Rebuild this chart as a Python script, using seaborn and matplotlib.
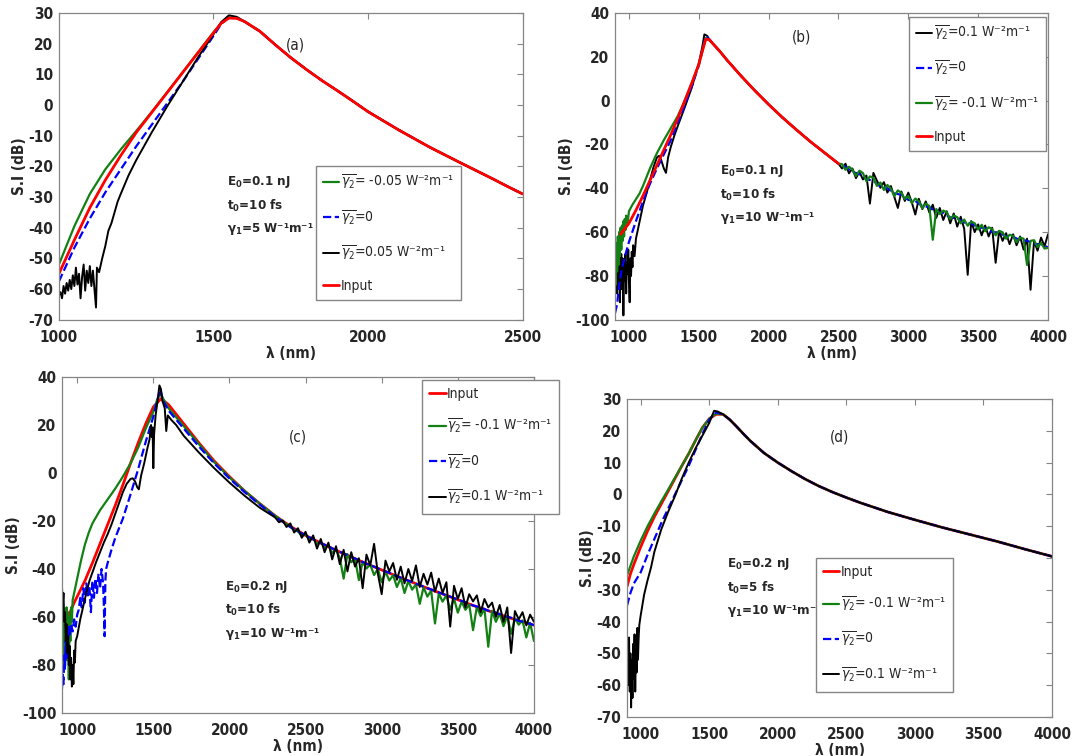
import matplotlib
matplotlib.use('Agg')
import matplotlib.pyplot as plt
from matplotlib import font_manager
import seaborn as sns

# ---------------- panel (a) ----------------
a_tail_wl = [1600, 1650, 1700, 1750, 1800, 1850, 1900, 1950, 2000, 2100, 2200, 2300, 2400, 2450, 2500]
a_tail = [27.2, 24.0, 19.6, 15.4, 11.6, 8.0, 4.7, 1.3, -2.2, -8.2, -13.8, -18.9, -23.9, -26.5, -29.0]

a_left_wl = [1000, 1050, 1100, 1150, 1200, 1250, 1300, 1350, 1400, 1450, 1500, 1525, 1550, 1575]
a_green = [-52.0, -39.5, -29.0, -21.0, -14.5, -8.5, -2.3, 4.1, 10.6, 17.1, 23.6, 26.7, 28.5, 28.3]
a_red = [-55.0, -44.0, -33.5, -24.5, -16.5, -9.0, -2.5, 4.0, 10.5, 17.0, 23.5, 26.6, 28.3, 28.2]
a_blue = [-57.5, -46.5, -37.0, -28.5, -21.0, -13.5, -6.5, 0.5, 7.5, 15.0, 22.5, 26.4, 28.6, 28.4]

a_black_wl = [1000, 1005, 1010, 1015, 1020, 1025, 1030, 1035, 1040, 1045, 1050, 1055, 1060,
              1065, 1070, 1075, 1080, 1085, 1090, 1095, 1100, 1105, 1110, 1115, 1120,
              1123, 1130, 1140, 1150, 1160, 1170, 1180, 1190, 1200, 1225, 1250, 1275,
              1300, 1350, 1400, 1450, 1500, 1525, 1550, 1575]
a_black = [-62, -61, -63, -59, -61.5, -58, -60.5, -57, -60, -55.5, -59, -53, -58.5,
           -55, -63, -56, -52, -60.5, -54, -58, -52.5, -59, -54, -60, -66,
           -53, -54.5, -50, -46, -41, -38.5, -35, -31.5, -29, -23, -18, -13.5,
           -9, -0.5, 7.5, 15.5, 23, 27, 29.2, 28.7]

# ---------------- panel (b) ----------------
b_mid_wl = [1600, 1650, 1700, 1750, 1800, 1850, 1900, 1950, 2000, 2100, 2200, 2300, 2400, 2500]
b_mid = [26.0, 22.5, 18.6, 15.0, 11.4, 8.0, 4.6, 1.4, -1.8, -7.8, -13.4, -18.8, -23.8, -28.8]

b_red_wl = [940, 970, 1000, 1050, 1100, 1150, 1200, 1250, 1300, 1350, 1400, 1450, 1500, 1525, 1550, 1575]
b_red = [-61.0, -58.5, -56.0, -50.0, -43.5, -36.5, -29.5, -22.5, -15.5, -8.0, 0.0, 8.0, 16.5, 22.5, 28.0, 27.8]

b_green_wl = [900, 905, 910, 915, 920, 925, 930, 935, 940, 945, 950, 955, 960, 965, 970, 975,
              980, 990, 1000, 1025, 1050, 1075, 1100, 1150, 1200, 1250, 1300, 1350, 1400,
              1450, 1500, 1525, 1550, 1575]
b_green = [-72, -84, -65, -78, -62, -75, -60, -71, -58, -68, -57, -64, -55, -62, -54, -59,
           -52.5, -56, -50.5, -47.5, -45, -42.5, -39, -31, -24, -18, -12.5, -7, 0,
           8, 16.5, 22.5, 28.5, 27.5]

b_blue_wl = [900, 915, 930, 945, 960, 980, 1000, 1050, 1100, 1150, 1200, 1250, 1300, 1350,
             1400, 1450, 1500, 1525, 1550, 1575]
b_blue = [-97, -93, -84, -78, -74, -69, -64.5, -55, -46, -38, -31, -24.5, -18, -10,
          -2, 6.5, 16, 22.5, 29.5, 28]

b_black_wl = [900, 905, 910, 915, 920, 925, 930, 935, 940, 945, 950, 955, 960, 965, 970,
              975, 980, 985, 990, 995, 1000, 1005, 1010, 1015, 1020, 1025, 1030,
              1040, 1050, 1060, 1075, 1100, 1125, 1150, 1175, 1200, 1215, 1230, 1250,
              1265, 1280, 1300, 1325, 1350, 1400, 1450, 1500, 1525, 1540, 1560, 1575]
b_black = [-68, -80, -72, -88, -70, -85, -75, -92, -78, -70, -86, -72, -98, -76, -82,
           -70, -88, -74, -79, -68, -83, -92, -72, -80, -69, -76, -66,
           -71, -63, -60, -55.5, -48, -42.5, -36.5, -30.5, -26.0, -25.2, -27, -31.0,
           -33.0, -26, -21, -16, -11.5, -3, 6, 17, 24.5, 30.2, 29.5, 27.8]

b_noise_wl = list(range(2525, 4001, 25))
b_green_noise = [-29.0, -31.6, -30.2, -31.5, -34.4, -32.0, -33.1, -36.8, -34.6, -35.2,
                 -38.9, -37.4, -40.8, -38.5, -40.2, -43.6, -41.0, -42.1, -44.9, -43.5,
                 -46.8, -44.7, -45.9, -49.2, -47.0, -48.1, -63.5, -49.5, -51.8, -50.2,
                 -51.0, -54.1, -52.4, -53.2, -56.0, -54.3, -57.1, -55.2, -56.0, -58.8,
                 -56.7, -59.6, -57.8, -58.6, -61.5, -59.4, -60.1, -63.0, -61.2, -61.8,
                 -64.6, -62.5, -63.0, -75.0, -64.0, -63.7, -66.8, -64.9, -67.5, -67.2]
b_black_noise = [-31.0, -28.8, -33.2, -31.0, -35.4, -32.5, -36.0, -34.2, -47.0, -33.0,
                 -36.5, -39.8, -37.2, -42.0, -39.0, -44.0, -49.0, -41.5, -45.8, -42.0,
                 -46.5, -52.0, -44.8, -49.5, -46.0, -51.0, -47.5, -53.5, -49.0, -54.5,
                 -50.5, -56.0, -51.5, -57.5, -53.0, -58.5, -79.5, -55.0, -60.0, -56.5,
                 -61.5, -57.0, -62.0, -58.0, -74.0, -59.5, -64.0, -60.5, -65.5, -61.0,
                 -66.0, -62.0, -68.0, -63.0, -86.3, -64.0, -68.5, -62.5, -66.5, -61.0]
b_blue_noise_wl = list(range(2550, 4001, 50))
b_blue_noise = [-30.2, -32.6, -33.5, -35.9, -36.6, -39.2, -40.0, -42.3, -43.0, -45.3,
                -45.8, -48.1, -48.6, -50.8, -51.2, -53.3, -53.7, -55.7, -56.0, -57.9,
                -58.2, -60.0, -60.2, -62.0, -62.1, -63.8, -63.9, -65.5, -65.5, -67.0]

# ---------------- panel (c) ----------------
c_red_wl = [940, 960, 980, 1000, 1050, 1100, 1150, 1200, 1250, 1300, 1350, 1400, 1450, 1500,
            1550, 1600, 1700, 1800, 1900, 2000, 2100, 2200, 2300, 2400, 2500, 2600, 2700,
            2800, 2900, 3000, 3100, 3200, 3300, 3400, 3500, 3600, 3700, 3800, 3900, 4000]
c_red = [-60, -57, -54, -51.5, -45, -37.5, -29.5, -21.5, -13.5, -5, 4, 12.5, 20.5, 27.5,
         31, 28.5, 20.5, 12.5, 5, -1.5, -7.5, -12.8, -17.8, -22.2, -26, -29.2, -32.2,
         -35, -37.8, -40.4, -43, -45.5, -48, -50.4, -52.8, -55.2, -57.4, -59.5, -61.6, -63.4]

c_green_wl = [900, 905, 910, 915, 920, 925, 930, 935, 940, 945, 950, 955, 960, 965, 970,
              980, 1000, 1025, 1050, 1075, 1100, 1150, 1200, 1250, 1300, 1350, 1400, 1450,
              1500, 1525, 1545, 1560, 1600, 1700, 1800, 1900, 2000, 2100, 2200, 2300]
c_green = [-58, -75, -62, -80, -60, -72, -56, -78, -58, -86, -60, -70, -56, -62, -53,
           -50, -44, -36.5, -30, -25, -21, -15.5, -11, -6.5, -1.5, 4, 10.5, 18.5,
           25.5, 30.5, 33, 31.5, 27, 19.5, 12, 4.5, -1.8, -7.5, -12.8, -17.8]
c_green_noise_wl = list(range(2400, 4001, 25))
c_green_noise = [-22.5, -23.8, -24.3, -26.2, -25.6, -27.9, -27.0, -29.6, -28.8, -31.2,
                 -30.0, -33.4, -31.8, -35.5, -44.0, -33.8, -37.2, -35.6, -44.6, -37.0,
                 -39.8, -38.2, -42.5, -40.0, -45.5, -41.2, -44.8, -42.6, -47.5, -43.8,
                 -50.0, -45.0, -48.6, -46.4, -54.5, -47.6, -51.5, -49.0, -62.7, -50.2,
                 -53.6, -51.0, -57.0, -52.3, -58.2, -53.6, -57.0, -54.8, -65.5, -55.8,
                 -59.6, -56.6, -72.4, -57.4, -62.0, -58.6, -63.8, -59.6, -67.0, -60.6,
                 -63.2, -61.4, -68.5, -62.4, -70.0]

c_blue_wl = [900, 905, 910, 915, 920, 925, 930, 935, 940, 945, 950, 960, 970, 980, 990,
             1000, 1010, 1020, 1030, 1040, 1050, 1060, 1070, 1080, 1090, 1100, 1110, 1120,
             1130, 1140, 1150, 1160, 1170, 1175, 1180, 1185, 1190, 1200, 1225, 1250, 1275,
             1300, 1325, 1350, 1400, 1450, 1500, 1525, 1545, 1565, 1600, 1700, 1800, 1900,
             2000, 2100, 2200, 2300, 2400, 2500]
c_blue = [-90, -84, -88, -76, -82, -70, -78, -66, -72, -64, -68, -63, -66, -61, -64,
          -59, -57, -52, -56, -48, -54, -46, -51, -47, -58, -45, -52, -44,
          -50, -42, -48, -40, -46, -55, -68, -45, -40, -37.5, -32, -27, -23,
          -19, -14, -9, 1.5, 13, 23.5, 30, 35, 30, 26, 18.5, 11, 4,
          -2.3, -8, -13.2, -18.2, -22.5, -26]
c_blue_tail_wl = list(range(2550, 4001, 50))
c_blue_tail = [-27.6, -29.2, -30.6, -32.2, -33.5, -35.0, -36.3, -37.8, -39.0, -40.4,
               -41.6, -43.0, -44.2, -45.5, -46.7, -48.0, -49.1, -50.4, -51.5, -52.8,
               -53.8, -55.2, -56.0, -57.4, -58.2, -59.5, -60.3, -61.6, -62.3, -63.4]

c_black_wl = [900, 905, 910, 915, 920, 925, 930, 935, 940, 945, 950, 955, 960, 965, 970,
              975, 980, 985, 990, 1000, 1020, 1040, 1060, 1080, 1100, 1125, 1150, 1175,
              1200, 1225, 1250, 1275, 1300, 1325, 1350, 1365, 1380, 1395, 1405, 1420,
              1440, 1460, 1475, 1485, 1490, 1495, 1500, 1505, 1515, 1530, 1540, 1550,
              1560, 1575, 1585, 1595, 1620, 1650, 1700, 1800, 1900, 2000, 2100, 2200]
c_black = [-47, -55, -50, -62, -58, -70, -63, -75, -68, -80, -72, -86, -77, -89, -80,
           -88, -74, -79, -70, -68, -61, -55.5, -50, -45, -41.5, -37, -33, -29,
           -25.5, -21.5, -17, -12.5, -8, -4.5, -2.5, -2.2, -3.5, -6, -6.8, -1,
           4, 10, 14, 20, 15, 19, 2, 16, 24, 31, 36.5, 35,
           30, 27, 17.5, 24, 22, 20, 15.5, 8.5, 2, -4, -9.5, -14.5]
c_black_noise_wl = list(range(2300, 4001, 25))
c_black_noise = [-18.5, -20.5, -19.8, -22.5, -21.0, -24.8, -23.0, -27.0, -24.5, -29.0,
                 -26.0, -31.5, -27.5, -33.0, -29.0, -36.0, -30.5, -38.0, -32.0, -41.0,
                 -33.0, -39.0, -35.5, -48.0, -34.0, -38.5, -29.5, -42.0, -50.5, -36.5,
                 -41.0, -37.5, -44.5, -39.0, -46.0, -40.0, -45.0, -38.5, -47.5, -42.0,
                 -46.5, -41.5, -49.5, -44.0, -50.0, -45.5, -64.0, -47.0, -52.5, -48.0,
                 -56.0, -50.5, -53.5, -51.0, -58.0, -52.5, -56.0, -54.0, -60.0, -55.0,
                 -62.0, -56.0, -75.0, -57.5, -61.0, -58.0, -63.5, -59.0, -62.0]

# ---------------- panel (d) ----------------
d_tail_wl = [1600, 1650, 1700, 1750, 1800, 1900, 2000, 2100, 2200, 2300, 2400, 2500, 2600,
             2800, 3000, 3200, 3400, 3600, 3800, 4000]
d_tail = [25.2, 23.5, 21.3, 19.0, 16.8, 13.0, 10.0, 7.3, 4.8, 2.6, 0.7, -1.0, -2.6,
          -5.5, -8.0, -10.4, -12.6, -14.8, -17.2, -19.5]

d_left_wl = [900, 925, 950, 1000, 1050, 1100, 1150, 1200, 1250, 1300, 1350, 1400, 1450, 1500, 1550]
d_red = [-29, -25, -22, -16.5, -11.5, -7, -3, 1, 5, 9, 12.8, 17, 21, 23.8, 25.2]
d_green = [-25.5, -22.5, -19.5, -14.5, -10, -6, -2.2, 1.5, 5.3, 9, 12.8, 17, 21, 23.8, 25.4]
d_blue = [-35, -31, -28, -24.5, -19, -14, -9, -4.5, 0, 4.5, 9, 14, 19, 23.5, 25.8]

d_black_wl = [900, 905, 910, 915, 920, 925, 930, 935, 940, 945, 950, 955, 960, 965, 970,
              975, 980, 985, 990, 1000, 1025, 1050, 1075, 1100, 1150, 1200, 1250, 1300,
              1350, 1400, 1450, 1500, 1535, 1560]
d_black = [-55, -48, -60, -45, -62, -50, -67, -52, -64, -47, -58, -44, -62, -49, -56,
           -42, -52, -45, -41, -38, -31.5, -27, -23, -18, -11, -5.5, -0.5, 5,
           10, 14.5, 18.5, 22.5, 26.3, 26.1]

# ---------------- style ----------------
sns.set_style('white')

# a narrow face if one is installed, otherwise plain Liberation Sans a bit smaller
narrow = [f.name for f in font_manager.fontManager.ttflist
          if f.stretch == 'condensed' or 'Narrow' in f.name or 'Condensed' in f.name]
if narrow:
    FAM = narrow[0]
    plt.rcParams['font.stretch'] = 'condensed'
    TICK, LEG, NOTE = 11, 10, 9.5
else:
    FAM = 'Liberation Sans'
    TICK, LEG, NOTE = 10, 9, 9
plt.rcParams['font.family'] = [FAM, 'DejaVu Sans']
plt.rcParams['mathtext.fontset'] = 'custom'
plt.rcParams['mathtext.rm'] = FAM
plt.rcParams['mathtext.it'] = FAM + ':italic'
plt.rcParams['mathtext.bf'] = FAM + ':bold'
plt.rcParams['axes.unicode_minus'] = False

RED, GREEN, BLUE, BLACK = '#ff0000', '#138013', '#0000ff', '#000000'
EDGE = '#858585'

G2 = r'$\overline{\gamma_2}$'
lab_in = 'Input'
lab_zero = G2 + '=0'


def draw(ax, series):
    for x, y, color, ls, lw, label in series:
        sns.lineplot(x=x, y=y, ax=ax, color=color, linestyle=ls, linewidth=lw,
                     label=label, estimator=None, sort=False)


def style(ax, xlim, ylim, xticks, yticks):
    ax.set_xlim(xlim)
    ax.set_ylim(ylim)
    ax.set_xticks(xticks)
    ax.set_yticks(yticks)
    ax.set_xticklabels([str(t) for t in xticks], fontweight='bold', fontsize=TICK)
    ax.set_yticklabels([str(t) for t in yticks], fontweight='bold', fontsize=TICK)
    ax.tick_params(direction='in', top=True, right=True, length=4, color=EDGE)
    ax.tick_params(axis='x', pad=7)
    ax.tick_params(axis='y', pad=4)
    for sp in ax.spines.values():
        sp.set_color(EDGE)
        sp.set_linewidth(0.9)
    ax.set_xlabel('λ (nm)', fontweight='bold', fontsize=TICK, labelpad=1)
    ax.set_ylabel('S.I (dB)', fontweight='bold', fontsize=TICK, labelpad=1)


def legend(ax, loc, anchor):
    leg = ax.legend(loc=loc, bbox_to_anchor=anchor, fontsize=LEG, frameon=True,
                    fancybox=False, edgecolor=EDGE, framealpha=1, handlelength=1.2,
                    handletextpad=0.1, labelspacing=1.15, borderpad=0.5, borderaxespad=0)
    leg.get_frame().set_linewidth(1.0)


def note(ax, x, y, s):
    ax.text(x, y, s, transform=ax.transAxes, fontweight='bold', fontsize=NOTE,
            va='top', ha='left', linespacing=1.65)


fig = plt.figure(figsize=(10.91, 7.56), dpi=100)
ax_a = fig.add_axes([0.054, 0.577, 0.425, 0.406])
ax_b = fig.add_axes([0.5637, 0.577, 0.3969, 0.406])
ax_c = fig.add_axes([0.0568, 0.0569, 0.4326, 0.4444])
ax_d = fig.add_axes([0.5747, 0.0516, 0.3896, 0.4206])

ticks_wide = [1000, 1500, 2000, 2500, 3000, 3500, 4000]

# (a)
draw(ax_a, [
    (a_left_wl + a_tail_wl, a_green + a_tail, GREEN, '-', 1.6, G2 + '= -0.05 W⁻²m⁻¹'),
    (a_left_wl + a_tail_wl, a_blue + a_tail, BLUE, '--', 1.6, lab_zero),
    (a_black_wl + a_tail_wl, a_black + a_tail, BLACK, '-', 1.4, G2 + '=0.05 W⁻²m⁻¹'),
    (a_left_wl + a_tail_wl, a_red + a_tail, RED, '-', 2.0, lab_in),
])
style(ax_a, (1000, 2500), (-70, 30), [1000, 1500, 2000, 2500], list(range(-70, 31, 10)))
legend(ax_a, 'lower left', (0.554, 0.065))
note(ax_a, 0.362, 0.475, 'E$_\\mathbf{0}$=0.1 nJ\nt$_\\mathbf{0}$=10 fs\nγ$_\\mathbf{1}$=5 W⁻¹m⁻¹')
ax_a.text(0.51, 0.895, '(a)', transform=ax_a.transAxes, fontsize=TICK, ha='center', va='center')

# (b)
draw(ax_b, [
    (b_black_wl + b_mid_wl + b_noise_wl, b_black + b_mid + b_black_noise, BLACK, '-', 1.4,
     G2 + '=0.1 W⁻²m⁻¹'),
    (b_blue_wl + b_mid_wl + b_blue_noise_wl, b_blue + b_mid + b_blue_noise, BLUE, '--', 1.6, lab_zero),
    (b_green_wl + b_mid_wl + b_noise_wl, b_green + b_mid + b_green_noise, GREEN, '-', 1.6,
     G2 + '= -0.1 W⁻²m⁻¹'),
    (b_red_wl + b_mid_wl, b_red + b_mid, RED, '-', 2.0, lab_in),
])
style(ax_b, (900, 4000), (-100, 40), ticks_wide, list(range(-100, 41, 20)))
legend(ax_b, 'upper right', (0.995, 0.987))
note(ax_b, 0.243, 0.51, 'E$_\\mathbf{0}$=0.1 nJ\nt$_\\mathbf{0}$=10 fs\nγ$_\\mathbf{1}$=10 W⁻¹m⁻¹')
ax_b.text(0.432, 0.92, '(b)', transform=ax_b.transAxes, fontsize=TICK, ha='center', va='center')

# (c)
draw(ax_c, [
    (c_red_wl, c_red, RED, '-', 2.0, lab_in),
    (c_green_wl + c_green_noise_wl, c_green + c_green_noise, GREEN, '-', 1.6,
     G2 + '= -0.1 W⁻²m⁻¹'),
    (c_blue_wl + c_blue_tail_wl, c_blue + c_blue_tail, BLUE, '--', 1.6, lab_zero),
    (c_black_wl + c_black_noise_wl, c_black + c_black_noise, BLACK, '-', 1.4,
     G2 + '=0.1 W⁻²m⁻¹'),
])
style(ax_c, (900, 4000), (-100, 40), ticks_wide, list(range(-100, 41, 20)))
legend(ax_c, 'upper left', (0.763, 0.991))
note(ax_c, 0.345, 0.4, 'E$_\\mathbf{0}$=0.2 nJ\nt$_\\mathbf{0}$=10 fs\nγ$_\\mathbf{1}$=10 W⁻¹m⁻¹')
ax_c.text(0.5, 0.82, '(c)', transform=ax_c.transAxes, fontsize=TICK, ha='center', va='center')

# (d)
draw(ax_d, [
    (d_left_wl + d_tail_wl, d_red + d_tail, RED, '-', 2.0, lab_in),
    (d_left_wl + d_tail_wl, d_green + d_tail, GREEN, '-', 1.6, G2 + '= -0.1 W⁻²m⁻¹'),
    (d_left_wl + d_tail_wl, d_blue + d_tail, BLUE, '--', 1.6, lab_zero),
    (d_black_wl + d_tail_wl, d_black + d_tail, BLACK, '-', 1.4, G2 + '=0.1 W⁻²m⁻¹'),
])
style(ax_d, (900, 4000), (-70, 30), ticks_wide, list(range(-70, 31, 10)))
legend(ax_d, 'lower left', (0.444, 0.080))
note(ax_d, 0.235, 0.505, 'E$_\\mathbf{0}$=0.2 nJ\nt$_\\mathbf{0}$=5 fs\nγ$_\\mathbf{1}$=10 W⁻¹m⁻¹')
ax_d.text(0.5, 0.88, '(d)', transform=ax_d.transAxes, fontsize=TICK, ha='center', va='center')

fig.savefig('out.png', dpi=100)
